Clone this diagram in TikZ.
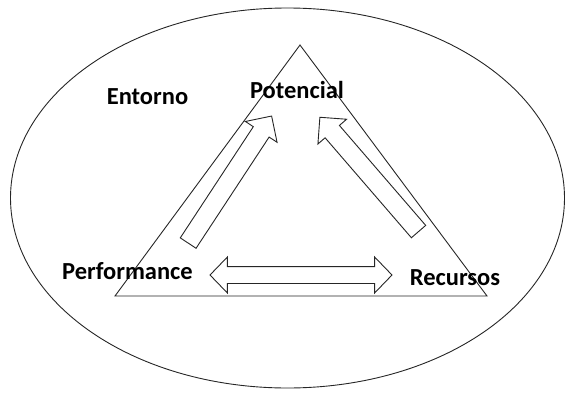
\documentclass[tikz,border=0pt]{standalone}
\usepackage{fontspec}
\setmainfont{Carlito}
\usetikzlibrary{shapes.arrows}
\begin{document}
\begin{tikzpicture}[x=1pt,y=-1pt,
  line/.style={draw=black!85, line width=0.9pt},
  label/.style={font=\fontsize{24.5}{26}\selectfont\bfseries, inner sep=0pt},
  uparrow/.style={single arrow, line, fill=white, inner sep=0pt,
    text height=18pt, text depth=0pt, single arrow head extend=9.5pt,
    minimum height=152pt, single arrow tip angle=90},
  botharrow/.style={double arrow, line, fill=white, inner sep=0pt,
    text height=16pt, text depth=0pt, double arrow head extend=9.5pt,
    minimum height=182pt, double arrow tip angle=92}]
  \useasboundingbox (0,0) rectangle (566,402);
  % surrounding environment
  \draw[line] (287.5,198) ellipse [x radius=277, y radius=190];
  % triangle of the three factors
  \coordinate (apex) at (300,45);
  \coordinate (left) at (115,296);
  \coordinate (right) at (487,296);
  \draw[line, line join=miter] (apex) -- (left) -- (right) -- cycle;
  % labels
  \node[label] (entorno) at (147.5,97) {Entorno};
  \node[label] (potencial) at (297,90) {Potencial};
  \node[label] (performance) at (127.5,271.5) {Performance};
  \node[label] (recursos) at (455,277.5) {Recursos};
  % block arrows
  \node[uparrow, rotate=56.7] (perfpot) at (227.3,183.5) {};
  \node[uparrow, rotate=130.8, minimum height=151pt] (recpot) at (372.3,178) {};
  \node[botharrow] (perfrec) at (301,275) {};
\end{tikzpicture}
\end{document}
